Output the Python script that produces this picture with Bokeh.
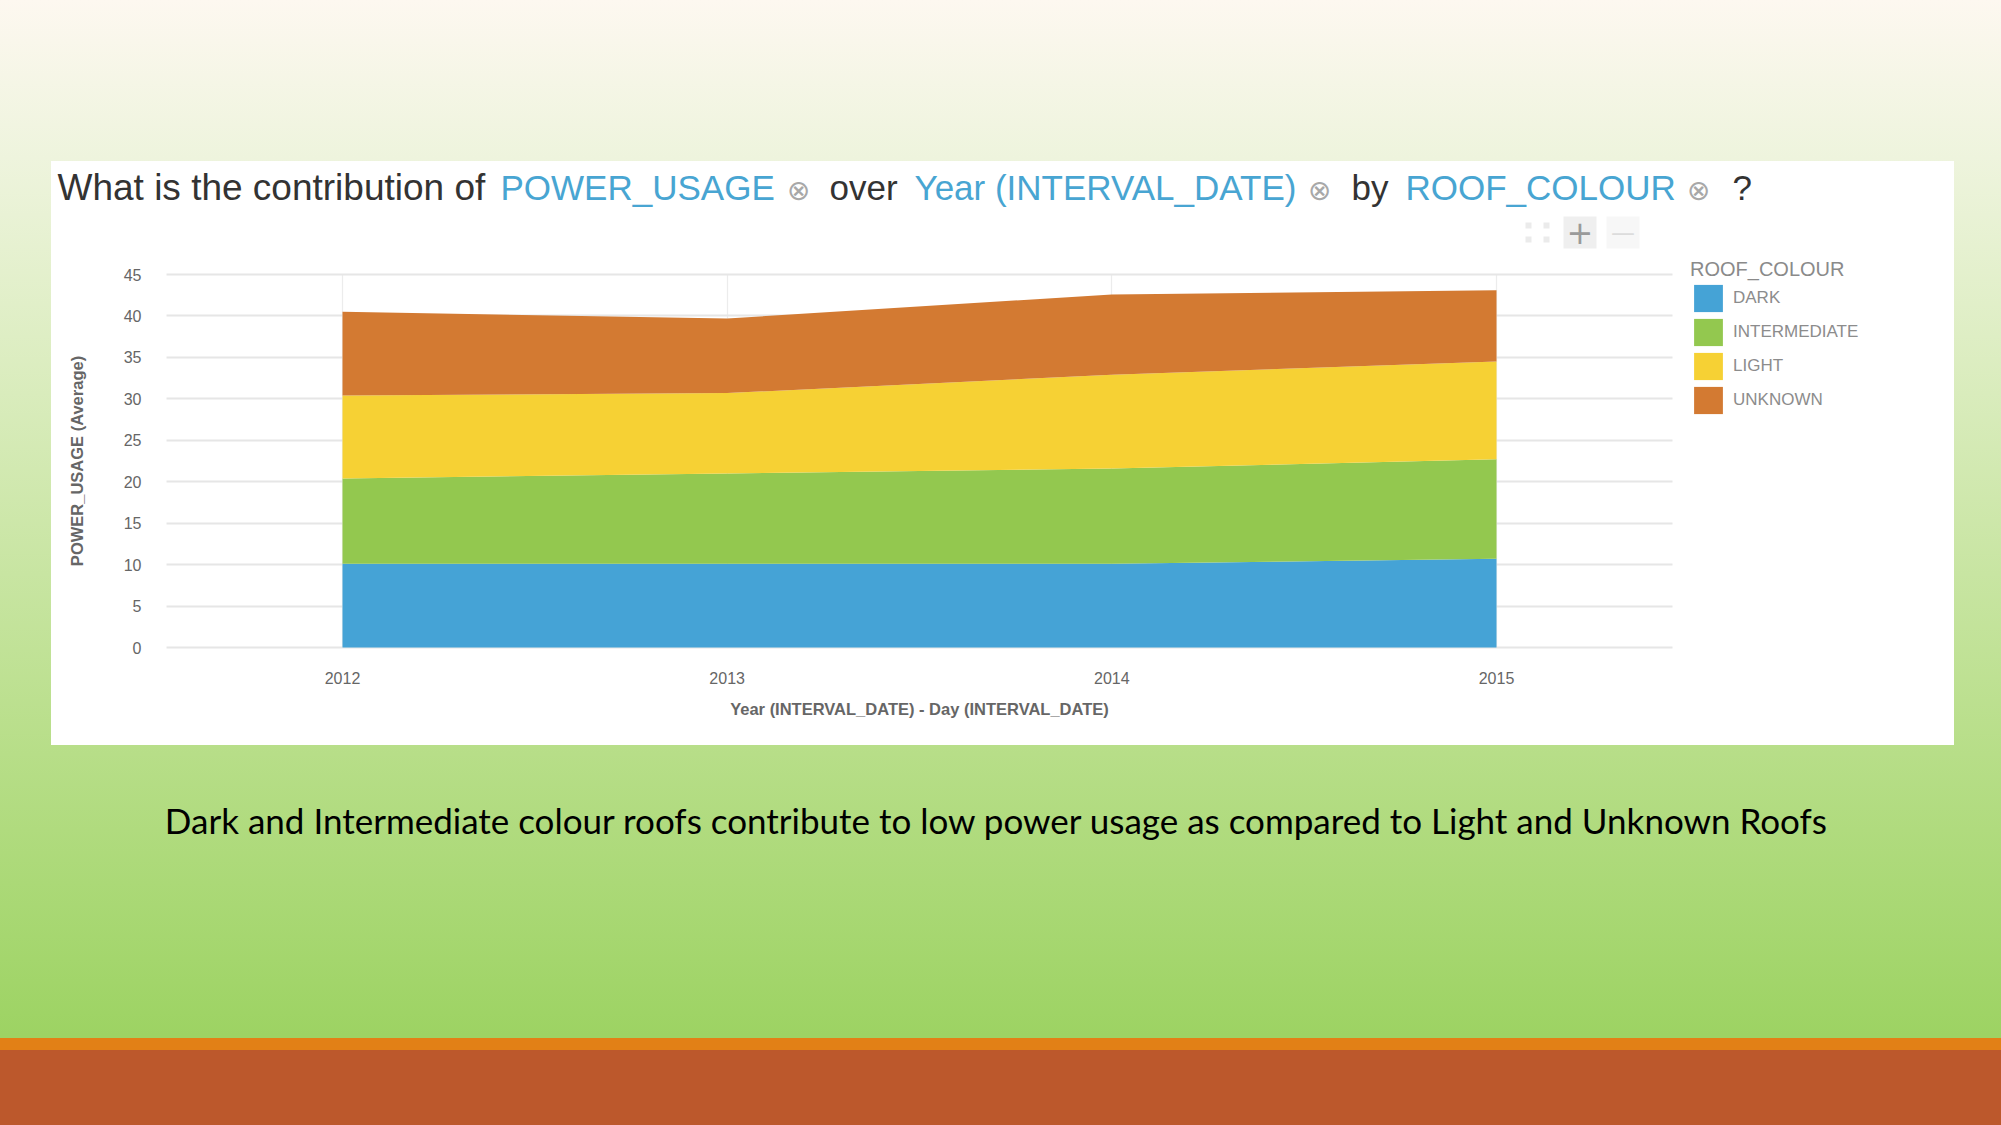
from bokeh.plotting import figure
from bokeh.models import (ColumnDataSource, Label, BoxAnnotation, FixedTicker,
                          Legend, LegendItem, Range1d, LinearAxis, Grid)
from bokeh.embed import file_html
from bokeh.resources import INLINE

# ---- data ----
years = [2012, 2013, 2014, 2015]
roof_colours = ["DARK", "INTERMEDIATE", "LIGHT", "UNKNOWN"]
dark = [10.1, 10.1, 10.1, 10.7]
intermediate = [10.3, 10.9, 11.5, 12.0]
light = [10.0, 9.7, 11.3, 11.8]
unknown = [10.1, 9.0, 9.7, 8.6]
y_ticks = [0, 5, 10, 15, 20, 25, 30, 35, 40, 45]

colors = ["#45A3D6", "#93C84F", "#F6D134", "#D37A32"]

src = ColumnDataSource(dict(year=years, DARK=dark, INTERMEDIATE=intermediate,
                            LIGHT=light, UNKNOWN=unknown))

W, H = 2001, 1125
# pixel anchors of the chart area on the page
PX_FIRST, PX_LAST = 342.0, 1496.0          # x of first / last year
PY_ZERO, PY_TOP = 647.0, 274.0             # y of 0 and of top tick
AREA_L, AREA_R = 166.0, 1672.0             # horizontal extent of plot area

sx = (PX_LAST - PX_FIRST) / (years[-1] - years[0])
sy = (PY_ZERO - PY_TOP) / (y_ticks[-1] - y_ticks[0])
x_start = years[0] - PX_FIRST / sx
x_end = x_start + W / sx
y_start = -(H - PY_ZERO) / sy
y_end = PY_ZERO / sy
x_lo = x_start + AREA_L / sx
x_hi = x_start + AREA_R / sx

bg = ("linear-gradient(#ffffff,#ffffff) 51px 161px / 1903px 584px no-repeat, "
      "linear-gradient(#e28016,#e28016) 0px 1038px / 100% 12px no-repeat, "
      "linear-gradient(#bc582c,#bc582c) 0px 1050px / 100% 75px no-repeat, "
      "linear-gradient(to bottom, #fdf8f0 0%, #eef4dd 14%, #d9ecbc 35%, #b7de88 67%, #9dd363 92%)")

p = figure(width=W, height=H, output_backend="svg", toolbar_location=None,
           x_range=Range1d(x_start, x_end), y_range=Range1d(y_start, y_end),
           x_axis_location=None, y_axis_location=None, min_border=0,
           border_fill_color=None, background_fill_color=None,
           outline_line_color=None, styles={"background": bg})

# remove default grids, add bounded ones
p.center = [r for r in p.center if not isinstance(r, Grid)]
xg = Grid(dimension=0, ticker=FixedTicker(ticks=years), grid_line_color="#ececec",
          grid_line_width=1.2)
yg = Grid(dimension=1, ticker=FixedTicker(ticks=y_ticks), grid_line_color="#e6e6e6",
          grid_line_width=2)
if "cross_bounds" in Grid.properties():
    xg.cross_bounds = (y_ticks[0], y_ticks[-1])
    yg.cross_bounds = (x_lo, x_hi)
p.add_layout(xg)
p.add_layout(yg)

rends = p.varea_stack(stackers=roof_colours, x="year", color=colors, source=src)

# axes (fixed at the plot-area edges)
xaxis = LinearAxis(fixed_location=y_ticks[0], ticker=FixedTicker(ticks=years),
                   bounds=(x_lo, x_hi),
                   axis_label="Year (INTERVAL_DATE) - Day (INTERVAL_DATE)")
yaxis = LinearAxis(fixed_location=x_lo, ticker=FixedTicker(ticks=y_ticks),
                   bounds=(y_ticks[0], y_ticks[-1]),
                   axis_label="POWER_USAGE (Average)")
for ax in (xaxis, yaxis):
    ax.axis_line_color = None
    ax.major_tick_line_color = None
    ax.minor_tick_line_color = None
    ax.major_tick_out = 0
    ax.major_label_text_font = "Liberation Sans"
    ax.major_label_text_font_size = "16px"
    ax.major_label_text_color = "#666666"
    ax.axis_label_text_font = "Liberation Sans"
    ax.axis_label_text_font_size = "16.5px"
    ax.axis_label_text_font_style = "bold"
    ax.axis_label_text_color = "#666666"
xaxis.major_label_standoff = 24
xaxis.axis_label_standoff = 13
yaxis.major_label_standoff = 25
yaxis.axis_label_standoff = 35
p.add_layout(xaxis, "below")
p.add_layout(yaxis, "left")

# legend
legend = Legend(items=[LegendItem(label=n, renderers=[r]) for n, r in zip(roof_colours, rends)],
                location=(1690, H - 417))
legend.title = "ROOF_COLOUR"
legend.title_text_font = "Liberation Sans"
legend.title_text_font_size = "20px"
legend.title_text_font_style = "normal"
legend.title_text_color = "#8a8a8a"
legend.title_standoff = 0
legend.label_text_font = "Liberation Sans"
legend.label_text_font_size = "17px"
legend.label_text_color = "#8c8c8c"
legend.glyph_width = 36
legend.glyph_height = 34
legend.spacing = 0
legend.padding = 0
legend.margin = 0
legend.label_standoff = 7
legend.border_line_color = None
legend.background_fill_alpha = 0
p.add_layout(legend)

# question text
TY = 187
pieces = [
    ("What is the contribution of", 57, "#333333", "37px"),
    ("POWER_USAGE", 500, "#48A5D2", "35px"),
    ("over", 829, "#333333", "35px"),
    ("Year (INTERVAL_DATE)", 914, "#48A5D2", "35px"),
    ("by", 1351, "#333333", "35px"),
    ("ROOF_COLOUR", 1405, "#48A5D2", "35px"),
    ("?", 1732, "#333333", "35px"),
]
for txt, x, c, fs in pieces:
    p.add_layout(Label(x=x, y=TY, x_units="canvas", y_units="canvas", text=txt,
                       text_font="Liberation Sans", text_font_size=fs,
                       text_color=c, text_baseline="middle", text_align="left"))
for x in (798, 1319, 1698):
    p.add_layout(Label(x=x, y=TY + 3, x_units="canvas", y_units="canvas", text="\u2297",
                       text_font="DejaVu Sans", text_font_size="28px",
                       text_color="#a8a8a8", text_baseline="middle", text_align="center"))

def cbox(l, r, t, b, color):
    p.add_layout(BoxAnnotation(left=l, right=r, top=t, bottom=b,
                               left_units="canvas", right_units="canvas",
                               top_units="canvas", bottom_units="canvas",
                               fill_color=color, fill_alpha=1, line_color=None,
                               level="underlay"))

cbox(1563, 1596, 216, 248, "#efefef")
cbox(1606, 1639, 216, 248, "#f7f7f7")
for (x0, y0) in ((1528, 225), (1546, 225), (1528, 239), (1546, 239)):
    cbox(x0 - 3, x0 + 3, y0 - 3, y0 + 3, "#ebebeb")
p.add_layout(Label(x=1579.5, y=232, x_units="canvas", y_units="canvas", text="+",
                   text_font="DejaVu Sans", text_font_size="32px", text_color="#9a9a9a",
                   text_baseline="middle", text_align="center"))
p.add_layout(Label(x=1622.5, y=232, x_units="canvas", y_units="canvas", text="\u2014",
                   text_font="DejaVu Sans", text_font_size="24px", text_color="#dcdcdc",
                   text_baseline="middle", text_align="center"))

# caption
p.add_layout(Label(x=1001, y=819, x_units="canvas", y_units="canvas",
                   text="Dark and Intermediate colour roofs  contribute to low power usage as compared to Light and Unknown Roofs",
                   text_font="Lato", text_font_size="35px", text_color="#000000",
                   text_baseline="middle", text_align="center"))

open("out.html", "w").write(file_html(p, INLINE))
